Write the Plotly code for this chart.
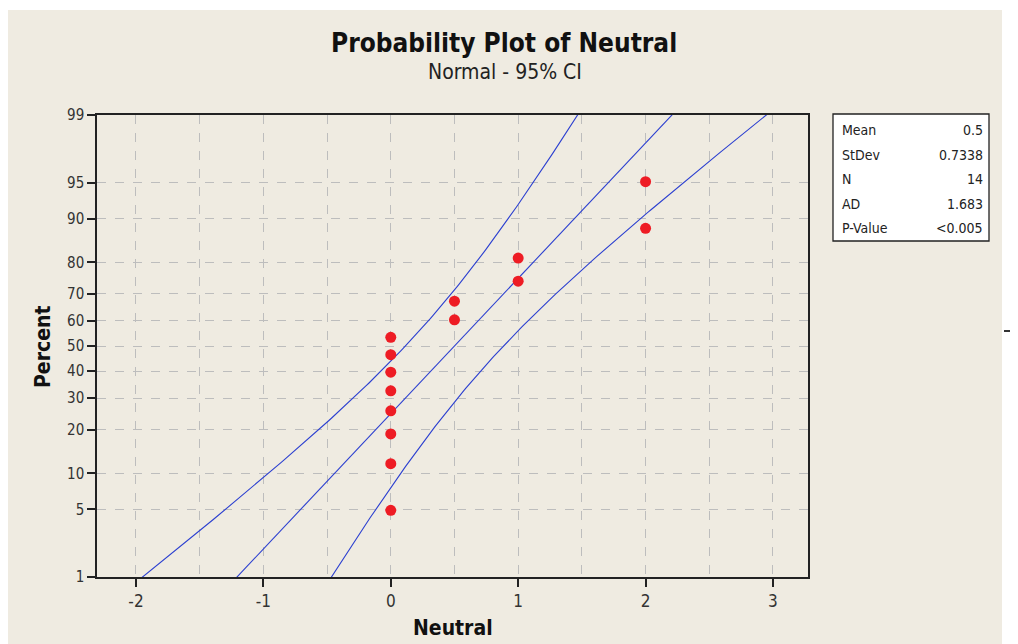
import math
from statistics import NormalDist
import plotly.graph_objects as go

# ---- data ----
neutral_values = [0, 0, 0, 0, 0, 0, 0, 0, 0.5, 0.5, 1, 1, 2, 2]
percent_values = [4.9, 11.8, 18.8, 25.7, 32.6, 39.6, 46.5, 53.5, 60.4, 67.4, 74.3, 81.2, 88.2, 95.1]
y_tick_percent = [1, 5, 10, 20, 30, 40, 50, 60, 70, 80, 90, 95, 99]
x_tick_vals = [-2, -1, 0, 1, 2, 3]
stat_names = ["Mean", "StDev", "N", "AD", "P-Value"]
stat_values = ["0.5", "0.7338", "14", "1.683", "<0.005"]
MEAN = 0.5
STDEV = 0.7338
N = 14
CI_Z = 1.96

nd = NormalDist()
def pz(p):
    return nd.inv_cdf(p / 100.0)

# fitted line and 95% CI bands (model curves from the stated parameters)
zs = [-2.5 + 5.0 * i / 200 for i in range(201)]
fit_x = [MEAN + STDEV * z for z in zs]
se = [STDEV * math.sqrt((1 + z * z / 2) / N) for z in zs]
lo_x = [f - CI_Z * s for f, s in zip(fit_x, se)]
hi_x = [f + CI_Z * s for f, s in zip(fit_x, se)]

# page body has an 8px margin: work in viewport pixels, convert to figure
OFF = 8
W, H = 1010, 636
PL, PR, PT, PB = 97, 808, 115, 577          # plot box in viewport pixels
ML, MT = PL - OFF, PT - OFF
MR, MB = W - (PR - OFF), H - (PB - OFF)
PW, PH = PR - PL, PB - PT

def px2x(px):
    return (px - PL) / PW
def py2y(py):
    return (PB - py) / PH

FONT = "DejaVu Sans Condensed, DejaVu Sans, sans-serif"
BLUE = "#2b3fd0"
RED = "#ee1c24"

fig = go.Figure()
for xs in (lo_x, fit_x, hi_x):
    fig.add_trace(go.Scatter(x=xs, y=zs, mode="lines",
                             line=dict(color=BLUE, width=1.1),
                             hoverinfo="skip", showlegend=False))
fig.add_trace(go.Scatter(x=neutral_values, y=[pz(p) for p in percent_values],
                         mode="markers",
                         marker=dict(color=RED, size=11, line=dict(width=0)),
                         showlegend=False))

shapes = [
    dict(type="rect", xref="paper", yref="paper", layer="below",
         x0=px2x(0), x1=px2x(1002), y0=py2y(660), y1=py2y(10),
         fillcolor="#efebe1", line=dict(width=0)),
    dict(type="rect", xref="paper", yref="paper",
         x0=px2x(833), x1=px2x(989), y0=py2y(241), y1=py2y(114),
         fillcolor="white", line=dict(color="#222222", width=1.3)),
    dict(type="line", xref="paper", yref="paper",
         x0=px2x(1004), x1=px2x(1015), y0=py2y(331), y1=py2y(331),
         line=dict(color="#333333", width=2)),
]

def ann(text, px, py, size, color, xanchor="center", angle=0):
    return dict(text=text, xref="paper", yref="paper", x=px2x(px), y=py2y(py),
                xanchor=xanchor, yanchor="middle", showarrow=False, textangle=angle,
                font=dict(family=FONT, size=size, color=color))

annotations = [
    ann("<b>Probability Plot of Neutral</b>", 504, 43, 26, "#111111"),
    ann("Normal - 95% CI", 505, 72, 21, "#222222"),
    ann("<b>Percent</b>", 43, 347, 21, "#111111", angle=-90),
    ann("<b>Neutral</b>", 453, 628, 21, "#111111"),
]
row_y = [130, 155, 179, 204, 228]
for name, val, ry in zip(stat_names, stat_values, row_y):
    annotations.append(ann(name, 840, ry, 14, "#222222", xanchor="left"))
    annotations.append(ann(val, 985, ry, 14, "#222222", xanchor="right"))

fig.update_layout(
    width=W, height=H,
    margin=dict(l=ML, r=MR, t=MT, b=MB, pad=0),
    paper_bgcolor="white",
    plot_bgcolor="white",
    shapes=shapes,
    annotations=annotations,
    font=dict(family=FONT, size=15, color="#333333"),
)
fig.update_xaxes(
    range=[-2.306, 3.275], tickvals=x_tick_vals,
    ticktext=[str(v) for v in x_tick_vals],
    ticks="outside", ticklen=8, tickwidth=1.5, tickcolor="#222222",
    showgrid=True, gridcolor="#bdbdbd", griddash="dash", gridwidth=1,
    minor=dict(dtick=0.5, tick0=0, showgrid=True, gridcolor="#bdbdbd",
               griddash="dash", ticks=""),
    showline=True, linecolor="#222222", linewidth=1.5, mirror=True,
    zeroline=False, tickfont=dict(size=17, color="#333333"),
)
fig.update_yaxes(
    range=[pz(1), pz(99)],
    tickvals=[pz(p) for p in y_tick_percent],
    ticktext=[str(p) for p in y_tick_percent],
    ticks="outside", ticklen=8, tickwidth=1.5, tickcolor="#222222",
    showgrid=True, gridcolor="#bdbdbd", griddash="dash", gridwidth=1,
    showline=True, linecolor="#222222", linewidth=1.5, mirror=True,
    zeroline=False, tickfont=dict(size=15, color="#333333"),
)

fig.write_html("out.html")
